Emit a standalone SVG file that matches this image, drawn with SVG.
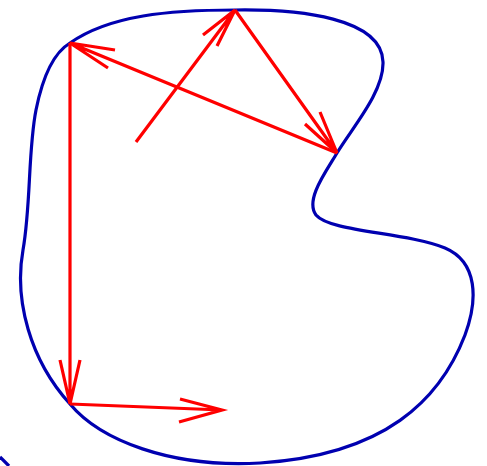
<svg xmlns="http://www.w3.org/2000/svg" width="487" height="466" viewBox="0 0 487 466">
<style>
.blob{fill:none;stroke:#0000b0;stroke-width:3.2}
.arr{fill:none;stroke:#ff0000;stroke-width:3.2;stroke-linecap:butt;stroke-linejoin:miter}
</style>
<rect width="487" height="466" fill="#fff"/>
<g id="region">
<path class="blob" d="M235,10 C300,9 382,18 383,62 C384,92 352,128 337,153 C325,173 305,200 316,215 C330,232 405,232 445,248 C478,262 478,300 465,335 C440,400 385,455 260,463 C170,468 100,440 70,404 C30,360 14,300 23,250 C31,205 28,150 36,110 C43,75 55,52 70,43 C110,15 170,10 235,10 Z"/>
<path class="blob" d="M0,457 L9,466"/>
</g>
<g id="connectors">
<path class="arr" d="M136,142 L235,10 M203,35 L235,10 L217,46"/>
<path class="arr" d="M235,10 L337,153 M305,124 L337,153 L320,112"/>
<path class="arr" d="M337,153 L70,43 M115,50 L70,43 L108,68"/>
<path class="arr" d="M70,43 L70,404 M60,360 L70,404 L80,360"/>
<path class="arr" d="M70,404 L222,410 M180,399 L222,410 L179,422"/>
</g>
</svg>
